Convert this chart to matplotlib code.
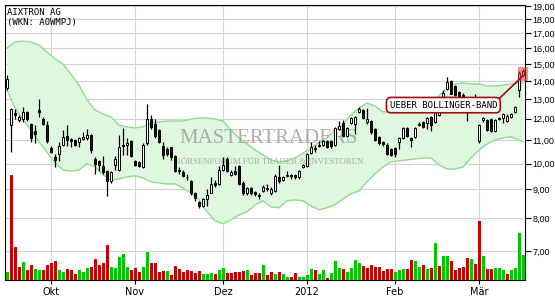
import numpy as np
import matplotlib
matplotlib.use("Agg")
import matplotlib.pyplot as plt
from matplotlib.patches import Rectangle
from matplotlib.ticker import NullLocator

# daily candles, AIXTRON AG
opens = [13.6, 11.7, 12.3, 11.95, 12.0, 12.35, 11.75, 11.4, 12.45, 12.0,
         11.7, 10.65, 10.25, 10.4, 10.8, 11.2, 11.05, 11.0, 10.9, 11.05,
         11.1, 11.25, 10.2, 10.1, 9.9, 9.7, 9.3, 9.95, 9.75, 10.8,
         10.8, 10.95, 10.1, 10.05, 9.85, 10.85, 12.0, 11.75, 11.45, 10.75,
         10.6, 10.7, 10.3, 9.75, 9.65, 9.48, 9.3, 8.85, 8.55, 8.42,
         8.65, 8.85, 9.22, 9.2, 9.75, 10.2, 9.55, 9.7, 9.9, 9.25,
         8.85, 9.05, 8.92, 8.75, 8.95, 9.0, 8.85, 8.95, 9.45, 9.35,
         9.5, 9.55, 9.55, 9.45, 9.85, 9.9, 10.45, 10.6, 10.75, 10.8,
         10.95, 10.95, 10.8, 11.5, 11.8, 11.2, 11.8, 11.75, 12.35, 12.45,
         11.85, 11.9, 11.5, 11.15, 10.9, 10.8, 10.6, 10.65, 10.9, 11.1,
         11.55, 11.1, 11.15, 11.7, 11.85, 11.8, 12.1, 11.85, 12.2, 13.1,
         13.55, 14.0, 13.7, 13.4, 13.2, 12.8, 12.6, 12.9, 10.95, 11.95,
         11.95, 12.0, 11.4, 12.05, 12.05, 11.9, 12.1, 12.35, 13.5, 14.35]
highs = [14.35, 12.55, 12.5, 12.2, 12.6, 12.4, 11.8, 11.7, 13.0, 12.1,
         11.9, 10.75, 10.4, 10.9, 11.45, 11.7, 11.1, 11.05, 11.15, 11.35,
         11.5, 11.3, 10.25, 10.15, 10.3, 9.75, 9.7, 10.3, 11.25, 11.55,
         11.1, 11.0, 10.15, 10.1, 10.85, 12.75, 12.2, 12.0, 11.5, 10.9,
         10.7, 10.7, 10.35, 9.85, 9.75, 9.6, 9.35, 8.9, 8.6, 8.7,
         9.0, 9.45, 9.35, 9.9, 10.25, 10.25, 9.75, 9.9, 9.95, 9.3,
         9.1, 9.1, 8.95, 8.85, 9.15, 9.2, 9.1, 9.6, 9.95, 9.5,
         9.7, 9.6, 9.6, 9.75, 10.0, 10.45, 10.9, 10.8, 10.95, 11.0,
         11.0, 11.0, 11.6, 11.9, 11.95, 11.6, 12.1, 12.15, 12.6, 12.5,
         12.55, 11.95, 11.55, 11.2, 10.95, 10.85, 10.65, 10.7, 11.15, 11.6,
         11.6, 11.15, 11.6, 11.85, 11.9, 12.1, 12.15, 12.5, 12.55, 13.5,
         14.2, 14.05, 13.75, 13.45, 13.35, 12.9, 13.0, 13.3, 11.75, 12.1,
         12.0, 12.05, 12.0, 12.1, 12.3, 12.25, 12.3, 12.65, 14.6, 14.7]
lows = [13.5, 10.5, 12.0, 11.85, 11.85, 11.9, 10.9, 10.85, 12.1, 11.7,
        10.85, 10.45, 9.85, 10.1, 10.75, 10.75, 10.7, 10.75, 10.7, 11.0,
        11.0, 10.45, 9.6, 9.7, 9.6, 8.75, 9.25, 9.75, 9.7, 10.35,
        10.35, 10.25, 9.9, 9.85, 9.8, 10.8, 11.5, 11.1, 10.85, 10.2,
        10.3, 10.15, 9.65, 9.6, 9.45, 9.35, 8.8, 8.6, 8.35, 8.38,
        8.4, 8.85, 9.1, 9.15, 9.7, 9.65, 9.5, 9.55, 9.15, 8.8,
        8.8, 8.8, 8.75, 8.65, 8.9, 8.95, 8.8, 8.9, 9.25, 9.3,
        9.45, 9.4, 9.4, 9.4, 9.8, 9.85, 10.4, 10.5, 10.7, 10.75,
        10.65, 10.65, 10.75, 11.45, 11.15, 11.15, 11.75, 11.3, 12.3, 12.0,
        11.75, 11.3, 10.95, 10.8, 10.75, 10.35, 10.3, 10.25, 10.6, 11.05,
        11.15, 10.7, 11.1, 11.65, 11.55, 11.5, 11.4, 11.8, 12.15, 12.5,
        13.5, 13.25, 13.15, 13.05, 13.05, 11.9, 12.5, 12.45, 10.85, 11.85,
        11.4, 11.35, 11.35, 11.95, 11.8, 11.85, 12.05, 12.3, 13.1, 14.3]
closes = [14.1, 12.5, 12.2, 12.1, 12.35, 12.0, 11.1, 11.3, 12.35, 11.75,
          10.95, 10.5, 10.15, 10.75, 11.15, 11.0, 10.98, 10.8, 11.1, 11.15,
          11.25, 10.55, 10.0, 9.95, 9.65, 9.3, 9.65, 10.2, 10.7, 10.75,
          10.85, 10.3, 9.95, 9.9, 10.8, 12.0, 11.6, 11.2, 10.9, 10.35,
          10.4, 10.25, 9.7, 9.68, 9.5, 9.45, 8.85, 8.7, 8.4, 8.65,
          8.8, 9.2, 9.15, 9.75, 9.95, 9.7, 9.65, 9.6, 9.2, 8.85,
          9.05, 8.85, 8.82, 8.8, 9.1, 9.05, 9.0, 9.5, 9.3, 9.45,
          9.55, 9.5, 9.45, 9.7, 9.95, 10.4, 10.7, 10.65, 10.8, 10.95,
          10.7, 10.75, 11.55, 11.65, 11.2, 11.55, 12.05, 12.1, 12.5, 12.05,
          12.0, 11.35, 11.0, 10.85, 10.82, 10.4, 10.35, 10.4, 11.1, 11.55,
          11.2, 11.0, 11.55, 11.75, 11.6, 12.05, 11.7, 12.45, 12.4, 13.35,
          13.95, 13.3, 13.2, 13.15, 13.1, 12.7, 12.9, 12.6, 11.7, 12.05,
          11.45, 11.4, 11.95, 12.0, 12.25, 12.15, 12.25, 12.6, 14.45, 14.6]
volumes = [8, 105, 33, 13, 18, 10, 15, 11, 10, 10,
           15, 17, 19, 10, 8, 11, 10, 6, 10, 8,
           12, 13, 21, 15, 17, 35, 13, 12, 23, 26,
           13, 10, 12, 8, 13, 28, 17, 17, 8, 9,
           9, 5, 14, 11, 8, 10, 9, 7, 9, 6,
           6, 7, 6, 10, 12, 7, 7, 8, 8, 9,
           10, 5, 7, 7, 15, 5, 8, 6, 8, 6,
           3, 3, 7, 3, 3, 5, 11, 10, 6, 10,
           2, 7, 19, 12, 11, 8, 12, 20, 17, 14,
           12, 15, 13, 13, 9, 11, 11, 8, 10, 11,
           11, 20, 19, 13, 15, 11, 12, 37, 14, 24,
           24, 19, 10, 12, 13, 22, 21, 16, 59, 24,
           11, 11, 12, 12, 10, 6, 10, 12, 47, 25]

# bollinger band, read every second session
band_idx = list(range(0, 129, 2)) + [129]
band_upper = [16.01, 16.40, 16.47, 16.40, 16.21, 15.75, 15.31, 15.00, 14.40, 13.77,
              12.96, 12.44, 12.24, 12.09, 11.70, 11.61, 11.56, 11.61, 11.79, 11.84,
              11.89, 11.89, 11.89, 11.99, 12.04, 12.04, 11.99, 11.89, 11.47, 11.10,
              10.83, 10.57, 10.36, 10.15, 10.07, 10.11, 10.23, 10.44, 10.62, 10.92,
              11.10, 11.47, 11.75, 12.19, 12.54, 12.80, 12.64, 12.34, 12.34, 12.34,
              12.39, 12.44, 12.54, 12.75, 13.17, 13.60, 13.83, 13.89, 13.83, 13.83,
              13.72, 13.72, 13.77, 13.83, 13.89, 13.89]
band_lower = [13.49, 12.54, 11.94, 11.47, 10.92, 10.48, 10.03, 9.74, 9.70, 9.74,
              9.99, 9.86, 9.55, 9.35, 9.39, 9.47, 9.51, 9.43, 9.28, 9.24,
              9.20, 9.20, 9.05, 8.87, 8.62, 8.21, 7.92, 7.82, 7.95, 8.11,
              8.21, 8.45, 8.59, 8.38, 8.35, 8.59, 8.62, 8.59, 8.41, 8.28,
              8.35, 8.45, 8.66, 8.84, 8.94, 9.28, 9.59, 9.86, 10.07, 10.11,
              10.15, 10.19, 10.23, 10.23, 9.94, 9.78, 9.78, 9.86, 10.23, 10.57,
              10.83, 11.01, 11.10, 11.15, 11.01, 10.92]

month_idx = [11, 32, 54, 75, 97, 118]
month_labels = ["Okt", "Nov", "Dez", "2012", "Feb", "Mär"]
price_ticks = [7, 8, 9, 10, 11, 12, 13, 14, 15, 16, 17, 18, 19]

n = len(closes)
idx = np.arange(n)
o = np.array(opens)
c = np.array(closes)

fig = plt.figure(figsize=(5.55, 3.0), dpi=100)
ax = fig.add_axes([5 / 555, 20 / 300, 520 / 555, 275 / 300])
axv = ax.twinx()

# volume on its own linear scale at the bottom
up_day = np.concatenate([[True], c[1:] >= c[:-1]])
vol_colors = np.where(up_day, "#00c800", "#c80000")
axv.bar(idx, volumes, width=0.75, color=vol_colors, linewidth=0)
axv.set_ylim(0, 275)
axv.set_yticks([])
axv.tick_params(right=False)
for sp in axv.spines.values():
    sp.set_visible(False)

# bollinger band
ax.fill_between(band_idx, band_lower, band_upper, color="#dff6df", lw=0, zorder=1)
ax.plot(band_idx, band_upper, color="#8fdc8f", lw=1.0, zorder=1.5)
ax.plot(band_idx, band_lower, color="#8fdc8f", lw=1.0, zorder=1.5)

# watermark
ax.text(0.507, 0.513, "MASTERTRADERS", transform=ax.transAxes, ha="center", va="center",
        fontsize=15, family="Liberation Serif", color="#9a9a9a", alpha=0.8, zorder=2)
ax.text(0.507, 0.43, "BÖRSENFORUM FÜR TRADER & INVESTOREN", transform=ax.transAxes,
        ha="center", va="center", fontsize=6.3, family="Liberation Serif",
        color="#9a9a9a", alpha=0.8, zorder=2)

# candles
ax.vlines(idx, lows, highs, color="black", lw=0.9, zorder=3)
body_lo = np.minimum(o, c)
body_h = np.maximum(np.abs(c - o), 0.03)
body_fc = np.where(c >= o, "white", "#0b1a0b")
ax.bar(idx, body_h, bottom=body_lo, width=0.7, color=body_fc, edgecolor="black",
       linewidth=0.7, zorder=3.5)

ax.set_xlim(-0.5, n - 0.5)
ax.set_yscale("log")
ax.set_ylim(6.22, 19.08)
ax.yaxis.tick_right()
ax.set_yticks(price_ticks)
ax.set_yticklabels(["{},00".format(v) for v in price_ticks], family="Liberation Sans")
ax.yaxis.set_minor_locator(NullLocator())
ax.set_xticks(month_idx)
ax.set_xticklabels(month_labels)
ax.tick_params(axis="y", direction="out", length=4, width=0.8, labelsize=6.5, pad=1.5)
ax.tick_params(axis="x", direction="out", length=3, width=0.8, labelsize=7, pad=2)
ax.grid(True, color="#d2d2d2", lw=0.8, zorder=0)
ax.set_axisbelow(True)
for sp in ax.spines.values():
    sp.set_color("black")
    sp.set_linewidth(0.8)

ax.text(0.004, 0.988, "AIXTRON AG", transform=ax.transAxes, ha="left", va="top",
        fontsize=6.5, family="DejaVu Sans Mono")
ax.text(0.004, 0.952, "(WKN: A0WMPJ)", transform=ax.transAxes, ha="left", va="top",
        fontsize=6.5, family="DejaVu Sans Mono")

# signal marker on the last session
last = n - 1
ax.add_patch(Rectangle((last - 1.2, lows[last] * 0.98), 2.4,
                       highs[last] * 1.01 - lows[last] * 0.98,
                       facecolor="#e83030", alpha=0.55, lw=0, zorder=4, clip_on=False))
ax.annotate("UEBER BOLLINGER-BAND", xy=(last, lows[last]), xytext=(0.843, 0.636),
            textcoords="axes fraction", ha="center", va="center", fontsize=6.5,
            family="DejaVu Sans Mono", zorder=6,
            bbox=dict(boxstyle="round,pad=0.35,rounding_size=0.5", fc="white",
                      ec="#a01010", lw=1.2),
            arrowprops=dict(arrowstyle="-", color="#a01010", lw=1.2, relpos=(1, 1),
                            shrinkA=0, shrinkB=0))

fig.savefig("out.png", dpi=100)
